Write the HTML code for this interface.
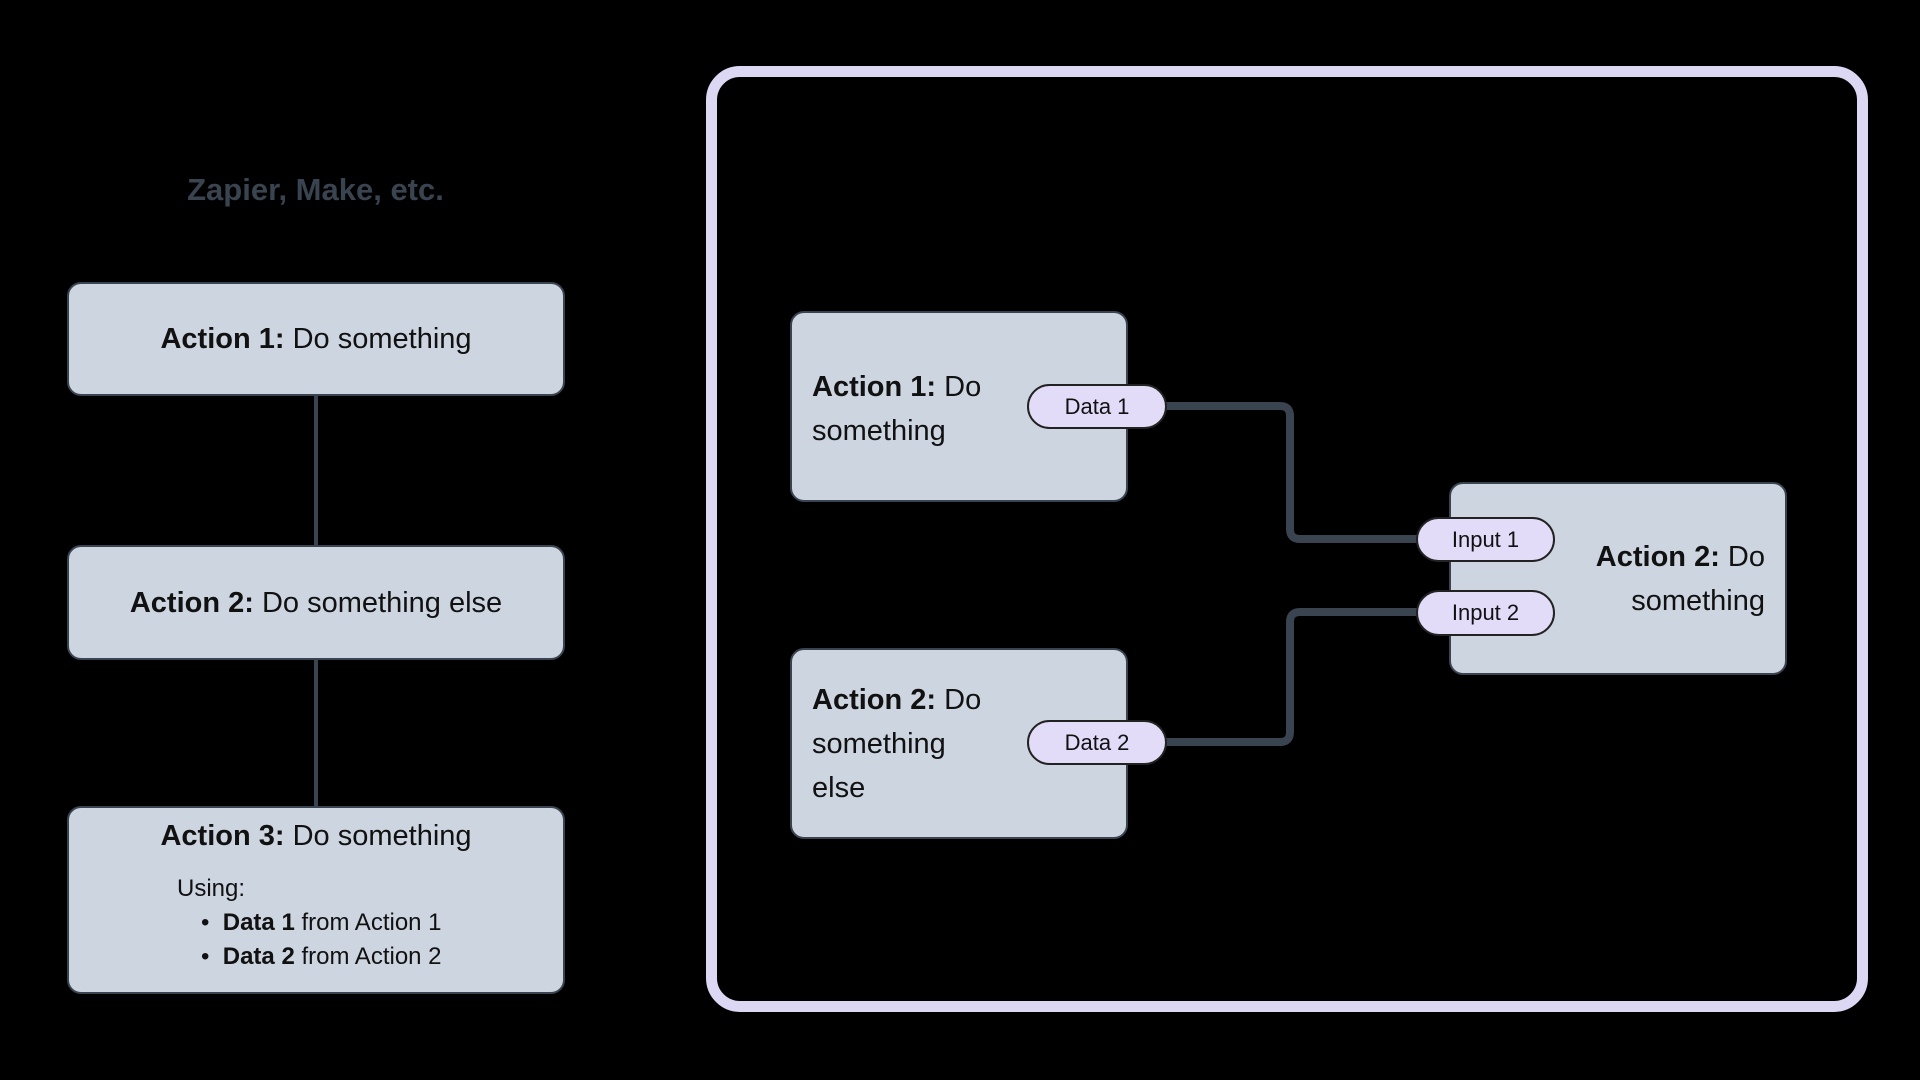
<!DOCTYPE html>
<html><head><meta charset="utf-8"><style>
body{margin:0;width:1920px;height:1080px;background:#000;position:relative;overflow:hidden;font-family:"Liberation Sans",sans-serif;color:#111}
.a{position:absolute;box-sizing:border-box}
.box{background:#cdd5e1;border:2px solid #3a4350;border-radius:14px}
.pill{background:#e2dcf8;border:2px solid #222;border-radius:24px;font-size:22px;display:flex;align-items:center;justify-content:center}
.t{font-size:29px;line-height:44px}
b{font-weight:bold}
</style></head><body>
<div class="a" style="left:184px;top:172px;width:263px;font-size:31px;font-weight:bold;color:#3a4350;text-align:center">Zapier, Make, etc.</div>
<div class="a" style="left:314px;top:394px;width:4px;height:152px;background:#3a4350"></div>
<div class="a" style="left:314px;top:658px;width:4px;height:150px;background:#3a4350"></div>
<div class="a box t" style="left:67px;top:282px;width:498px;height:114px;display:flex;align-items:center;justify-content:center"><span><b>Action 1:</b> Do something</span></div>
<div class="a box t" style="left:67px;top:545px;width:498px;height:115px;display:flex;align-items:center;justify-content:center"><span><b>Action 2:</b> Do something else</span></div>
<div class="a box" style="left:67px;top:806px;width:498px;height:188px">
<div class="t" style="text-align:center;margin-top:6px"><b>Action 3:</b> Do something</div>
<div style="position:absolute;left:108px;top:64px;font-size:24px;line-height:34px">Using:<br>
<div style="padding-left:24px">&bull;&nbsp; <b>Data 1</b> from Action 1<br>&bull;&nbsp; <b>Data 2</b> from Action 2</div></div>
</div>
<div class="a" style="left:706px;top:66px;width:1162px;height:946px;border:11px solid #dcd8f4;border-radius:34px"></div>
<svg class="a" style="left:0;top:0" width="1920" height="1080">
<path d="M1160 406 H1280 Q1290 406 1290 416 V529 Q1290 539 1300 539 H1420" fill="none" stroke="#3a4350" stroke-width="8"/>
<path d="M1160 742 H1280 Q1290 742 1290 732 V622 Q1290 612 1300 612 H1420" fill="none" stroke="#3a4350" stroke-width="8"/>
</svg>
<div class="a box t" style="left:790px;top:311px;width:338px;height:191px;padding:52px 0 0 20px">
<b>Action 1:</b> Do<br>something</div>
<div class="a box t" style="left:790px;top:648px;width:338px;height:191px;padding:28px 0 0 20px">
<b>Action 2:</b> Do<br>something<br>else</div>
<div class="a box t" style="left:1449px;top:482px;width:338px;height:193px;padding:51px 20px 0 0;text-align:right">
<b>Action 2:</b> Do<br>something</div>
<div class="a pill" style="left:1027px;top:384px;width:140px;height:45px">Data 1</div>
<div class="a pill" style="left:1027px;top:720px;width:140px;height:45px">Data 2</div>
<div class="a pill" style="left:1416px;top:517px;width:139px;height:45px">Input 1</div>
<div class="a pill" style="left:1416px;top:590px;width:139px;height:46px">Input 2</div>
</body></html>
